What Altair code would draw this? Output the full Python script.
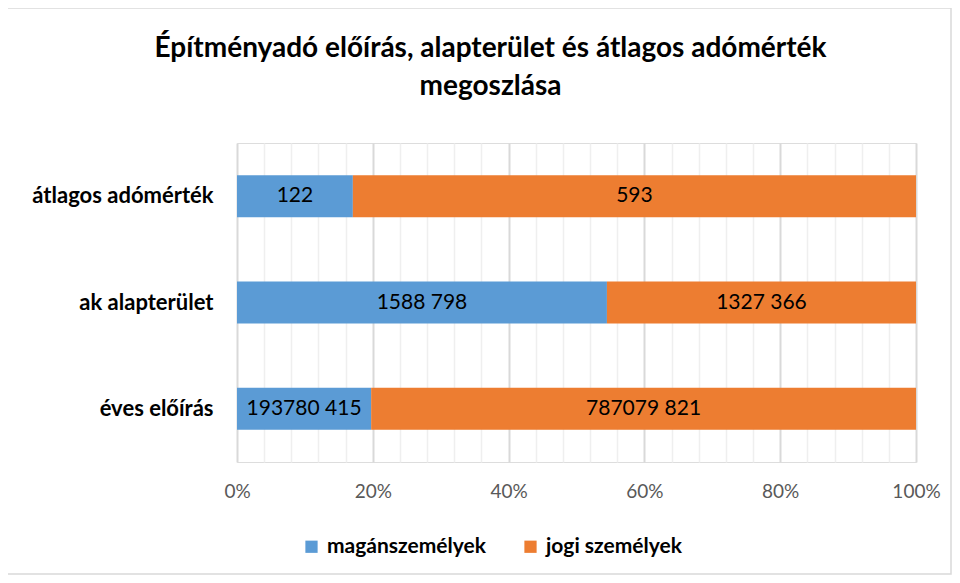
import altair as alt
import pandas as pd

categories = ["átlagos adómérték", "ak alapterület", "éves előírás"]
series = ["magánszemélyek", "jogi személyek"]
private_vals = [122, 1588798, 193780415]
legal_vals = [593, 1327366, 787079821]
private_labels = ["122", "1588 798", "193780 415"]
legal_labels = ["593", "1327 366", "787079 821"]
colors = ["#5B9BD5", "#ED7D31"]

rows = []
for i, c in enumerate(categories):
    rows.append({"cat": c, "series": series[0], "order": 0, "value": private_vals[i], "label": private_labels[i]})
    rows.append({"cat": c, "series": series[1], "order": 1, "value": legal_vals[i], "label": legal_labels[i]})
df = pd.DataFrame(rows)

FONT = "Lato"

base = alt.Chart(df).transform_joinaggregate(
    total="sum(value)", groupby=["cat"]
).transform_calculate(
    pct="datum.value / datum.total"
).transform_stack(
    stack="pct", groupby=["cat"], as_=["x0", "x1"], sort=[alt.SortField("order")]
).transform_calculate(
    mid="(datum.x0 + datum.x1) / 2"
)

y_enc = alt.Y("cat:N", sort=categories, title=None,
              scale=alt.Scale(paddingInner=0.6, paddingOuter=0.3),
              axis=alt.Axis(domain=False, ticks=False, labelFont=FONT, labelFontSize=22,
                            labelFontWeight="bold", labelColor="#000000", labelPadding=24,
                            labelLimit=300))

tick_vals = [round(k * 0.04, 2) for k in range(26)]

bars = base.mark_bar(size=42).encode(
    x=alt.X("x0:Q", scale=alt.Scale(domain=[0, 1], nice=False), title=None,
            axis=alt.Axis(values=tick_vals, tickCount=40, format=".0%", domain=False, ticks=False,
                          labelOverlap=False, labelFlush=False,
                          labelExpr="round(datum.value*100) % 20 == 0 ? datum.label : ''",
                          labelFont=FONT, labelFontSize=19, labelColor="#595959",
                          labelPadding=20,
                          gridColor={"condition": {"test": "round(datum.value*100) % 20 == 0", "value": "#d9d9d9"}, "value": "#efefef"},
                          gridWidth={"condition": {"test": "round(datum.value*100) % 20 == 0", "value": 2}, "value": 1.5})),
    x2="x1:Q",
    y=y_enc,
    color=alt.Color("series:N", sort=series,
                    scale=alt.Scale(domain=series, range=colors),
                    legend=alt.Legend(title=None, orient="none", direction="horizontal",
                                      legendX=64, legendY=393, symbolType="square",
                                      symbolSize=150, symbolStrokeWidth=0, symbolOpacity=1,
                                      labelFont=FONT, labelFontSize=21, labelFontWeight="bold",
                                      labelColor="#000000", columnPadding=34, labelOffset=5)),
)

texts = base.mark_text(font=FONT, fontSize=21, color="#000000").encode(
    x="mid:Q",
    y=alt.Y("cat:N", sort=categories),
    text="label:N",
)

frame = alt.Chart(pd.DataFrame({"a": [0]})).mark_rect(
    fill=None, stroke="#d9d9d9", strokeWidth=1.5, clip=False
).encode(x=alt.value(-232), x2=alt.value(714), y=alt.value(-135), y2=alt.value(431))

chart = alt.layer(frame, bars, texts).properties(
    width=679, height=319,
    padding={"left": 229, "top": 135, "right": 36, "bottom": 113},
    autosize=alt.AutoSizeParams(type="none"),
    title=alt.TitleParams(
        ["Építményadó előírás, alapterület és átlagos adómérték", "megoszlása"],
        font=FONT, fontSize=28, fontWeight="bold", color="#000000",
        anchor="middle", dx=-86, offset=-94, lineHeight=38,
    ),
).configure_view(stroke=None).configure(background="#ffffff")

chart.save("out.html", embed_options={"renderer": "svg", "actions": False})
